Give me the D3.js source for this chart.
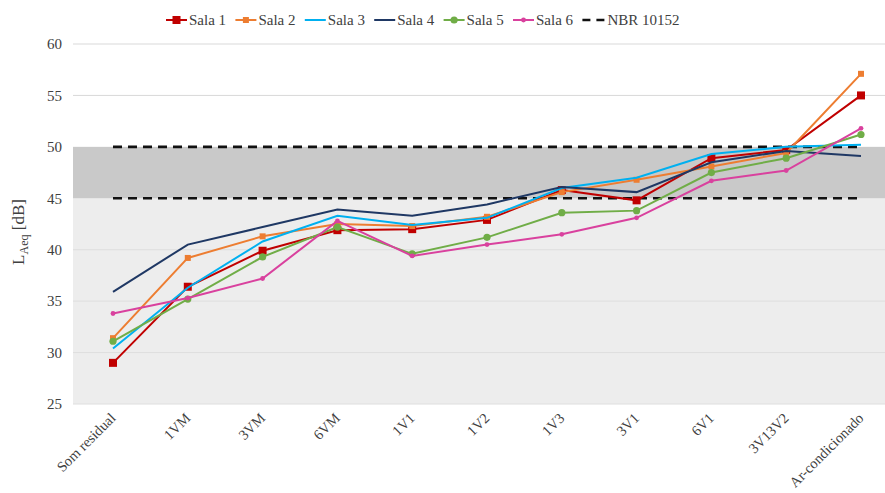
<!DOCTYPE html>
<html>
<head>
<meta charset="utf-8">
<script src="https://cdn.jsdelivr.net/npm/d3@7"></script>
<style>
  body { margin: 0; background: #fff; }
  svg text { font-family: "Liberation Serif", "Times New Roman", serif; fill: #404040; }
</style>
</head>
<body>
<div id="chart"></div>
<script>
// categories and series
const categories = ["Som residual", "1VM", "3VM", "6VM", "1V1", "1V2", "1V3", "3V1", "6V1", "3V13V2", "Ar-condicionado"];
const sala1 = [29.0, 36.4, 39.9, 41.9, 42.0, 42.9, 45.8, 44.8, 48.9, 49.7, 55.0];
const sala2 = [31.4, 39.2, 41.3, 42.5, 42.3, 43.2, 45.6, 46.8, 48.1, 49.4, 57.1];
const sala3 = [30.4, 36.3, 40.8, 43.3, 42.4, 43.1, 46.0, 47.0, 49.3, 50.0, 50.2];
const sala4 = [35.9, 40.5, 42.2, 43.9, 43.3, 44.4, 46.1, 45.6, 48.5, 49.6, 49.1];
const sala5 = [31.1, 35.2, 39.3, 42.2, 39.6, 41.2, 43.6, 43.8, 47.5, 48.9, 51.2];
const sala6 = [33.8, 35.3, 37.2, 42.8, 39.4, 40.5, 41.5, 43.1, 46.7, 47.7, 51.8];
const nbrLimits = [45, 50];
const yTicks = [25, 30, 35, 40, 45, 50, 55, 60];

const series = [
  { name: "Sala 1", values: sala1, color: "#c00000", marker: "square", size: 8 },
  { name: "Sala 2", values: sala2, color: "#ed7d31", marker: "square", size: 6 },
  { name: "Sala 3", values: sala3, color: "#00b0f0", marker: null },
  { name: "Sala 4", values: sala4, color: "#1f3864", marker: null },
  { name: "Sala 5", values: sala5, color: "#70ad47", marker: "circle", size: 3.6 },
  { name: "Sala 6", values: sala6, color: "#d9419e", marker: "circle", size: 2.4 }
];

const W = 885, H = 493;
const plotLeft = 73, plotRight = 885;
const serif = "'Liberation Serif', 'Times New Roman', serif";

const svg = d3.select("#chart").append("svg")
  .attr("width", W)
  .attr("height", H);

const x = d3.scalePoint().domain(categories).range([113, 861]);
const y = d3.scaleLinear().domain([25, 60]).range([404, 44]);

// background bands
svg.append("rect")
  .attr("x", plotLeft).attr("width", plotRight - plotLeft)
  .attr("y", y(45)).attr("height", y(25) - y(45))
  .attr("fill", "#ededed");
svg.append("rect")
  .attr("x", plotLeft).attr("width", plotRight - plotLeft)
  .attr("y", y(50)).attr("height", y(45) - y(50))
  .attr("fill", "#c9c9c9");

// gridlines
svg.append("g")
  .selectAll("line")
  .data(yTicks.filter(d => d !== 45 && d !== 50))
  .join("line")
  .attr("x1", plotLeft).attr("x2", plotRight)
  .attr("y1", d => y(d)).attr("y2", d => y(d))
  .attr("stroke", d => d > 50 ? "#d9d9d9" : "#dedede")
  .attr("stroke-width", 1);

// y axis
const yAxis = svg.append("g")
  .attr("transform", `translate(${plotLeft},0)`)
  .call(d3.axisLeft(y).tickValues(yTicks).tickSize(0).tickPadding(11));
yAxis.select(".domain").remove();
yAxis.attr("font-family", null);
yAxis.selectAll("text")
  .style("font-size", "15px")
  .style("font-family", serif)
  .attr("fill", "#404040");

// x axis
const xAxis = svg.append("g")
  .attr("transform", `translate(0,${y(25)})`)
  .call(d3.axisBottom(x).tickSize(0).tickPadding(0));
xAxis.select(".domain").remove();
xAxis.attr("font-family", null);
xAxis.selectAll("text")
  .style("font-size", "14.5px")
  .style("font-family", serif)
  .attr("fill", "#404040")
  .attr("dy", 0)
  .attr("transform", "translate(3,15) rotate(-45)")
  .style("text-anchor", "end");

// y title
const yTitle = svg.append("text")
  .attr("transform", "translate(24,232) rotate(-90)")
  .attr("text-anchor", "middle")
  .style("font-family", serif)
  .style("font-size", "17px");
yTitle.append("tspan").text("L");
yTitle.append("tspan").attr("dy", 4).style("font-size", "12px").text("Aeq");
yTitle.append("tspan").attr("dy", -4).text(" [dB]");

// NBR limit lines
svg.append("g")
  .selectAll("line")
  .data(nbrLimits)
  .join("line")
  .attr("x1", x(categories[0])).attr("x2", x(categories[categories.length - 1]))
  .attr("y1", d => y(d)).attr("y2", d => y(d))
  .attr("stroke", "#111")
  .attr("stroke-width", 2.6)
  .attr("stroke-dasharray", "9,6");

// series
const line = d3.line().x((d, i) => x(categories[i])).y(d => y(d));

series.forEach(s => {
  const g = svg.append("g");
  g.append("path")
    .datum(s.values)
    .attr("fill", "none")
    .attr("stroke", s.color)
    .attr("stroke-width", 2)
    .attr("d", line);
  if (s.marker === "square") {
    g.selectAll("rect")
      .data(s.values)
      .join("rect")
      .attr("x", (d, i) => x(categories[i]) - s.size / 2)
      .attr("y", d => y(d) - s.size / 2)
      .attr("width", s.size).attr("height", s.size)
      .attr("fill", s.color);
  } else if (s.marker === "circle") {
    g.selectAll("circle")
      .data(s.values)
      .join("circle")
      .attr("cx", (d, i) => x(categories[i]))
      .attr("cy", d => y(d))
      .attr("r", s.size)
      .attr("fill", s.color);
  }
});

// legend
const legendItems = series.map(s => ({ name: s.name, color: s.color, marker: s.marker, size: s.size, dashed: false }))
  .concat([{ name: "NBR 10152", color: "#111", marker: null, dashed: true }]);

const legend = svg.append("g").attr("transform", "translate(166,20)");
legendItems.forEach((d, i) => {
  const g = legend.append("g").attr("transform", `translate(${i * 69.4},0)`);
  if (d.dashed) {
    g.append("line").attr("x1", 0).attr("x2", 23).attr("y1", 0).attr("y2", 0)
      .attr("stroke", d.color).attr("stroke-width", 2.6).attr("stroke-dasharray", "8,6");
  } else {
    g.append("line").attr("x1", 0).attr("x2", 21).attr("y1", 0).attr("y2", 0)
      .attr("stroke", d.color).attr("stroke-width", 2);
    if (d.marker === "square") {
      g.append("rect").attr("x", 10.5 - d.size / 2).attr("y", -d.size / 2)
        .attr("width", d.size).attr("height", d.size).attr("fill", d.color);
    } else if (d.marker === "circle") {
      g.append("circle").attr("cx", 10.5).attr("cy", 0).attr("r", d.size).attr("fill", d.color);
    }
  }
  g.append("text")
    .attr("x", d.dashed ? 25 : 23)
    .attr("y", 5)
    .style("font-family", serif)
    .style("font-size", "15px")
    .text(d.name);
});
</script>
</body>
</html>
